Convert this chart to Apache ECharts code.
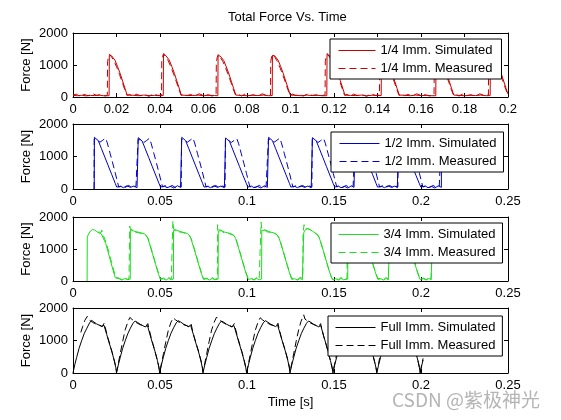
<!DOCTYPE html>
<html>
<head>
<meta charset="utf-8">
<script src="https://cdn.jsdelivr.net/npm/echarts@6/dist/echarts.min.js"></script>
<style>html,body{margin:0;padding:0;background:#fff}#c{width:561px;height:420px}</style>
</head>
<body>
<div id="c"></div>
<script>
// ---- data (time [s], force [N]) ----
const legendNames = [
  ['1/4 Imm. Simulated', '1/4 Imm. Measured'],
  ['1/2 Imm. Simulated', '1/2 Imm. Measured'],
  ['3/4 Imm. Simulated', '3/4 Imm. Measured'],
  ['Full Imm. Simulated', 'Full Imm. Measured']
];
const xMax = [0.2, 0.25, 0.25, 0.25];
const xStep = [0.02, 0.05, 0.05, 0.05];
const yMax = 2000, yStep = 1000;

const sim14 = [[0,50],[0.002,40],[0.004,55],[0.006,35],[0.008,50],[0.010,45],[0.012,60],[0.014,40],
[0.0166,40],[0.0167,1300],[0.0170,1350],[0.0177,1290],[0.0193,1150],[0.0205,950],[0.0217,730],[0.0228,500],[0.0239,270],[0.0249,60],[0.0253,30],
[0.0275,55],[0.030,40],[0.0325,60],[0.035,45],[0.0375,50],[0.040,40],
[0.0415,45],[0.0416,1320],[0.0419,1370],[0.0426,1300],[0.0442,1160],[0.0454,960],[0.0466,740],[0.0477,510],[0.0488,280],[0.0498,60],[0.0502,30],
[0.0525,50],[0.055,45],[0.0575,60],[0.060,40],[0.0625,55],[0.065,45],
[0.0666,40],[0.0667,1290],[0.0670,1340],[0.0677,1280],[0.0693,1140],[0.0705,940],[0.0717,720],[0.0728,490],[0.0739,260],[0.0749,60],[0.0753,30],
[0.0775,50],[0.080,40],[0.0825,55],[0.085,45],[0.0875,60],[0.090,40],
[0.0916,45],[0.0917,1300],[0.0920,1350],[0.0927,1290],[0.0943,1150],[0.0955,950],[0.0967,730],[0.0978,500],[0.0989,270],[0.0999,60],[0.1003,30],
[0.1025,55],[0.105,40],[0.1075,60],[0.110,45],[0.1125,50],[0.115,40],
[0.1167,40],[0.1168,1320],[0.1171,1360],[0.1178,1300],[0.1194,1160],[0.1206,960],[0.1218,740],[0.1229,510],[0.1240,280],[0.1250,60],[0.1254,30],
[0.1275,50],[0.130,45],[0.1325,60],[0.135,40],[0.1375,55],[0.140,45],
[0.1417,45],[0.1418,1310],[0.1421,1350],[0.1428,1290],[0.1444,1150],[0.1456,950],[0.1468,730],[0.1479,500],[0.1490,270],[0.1500,60],[0.1504,30],
[0.1525,55],[0.155,40],[0.1575,60],[0.160,45],[0.1625,50],[0.165,40],
[0.1668,40],[0.1669,1300],[0.1672,1340],[0.1679,1280],[0.1695,1140],[0.1707,940],[0.1719,720],[0.1730,490],[0.1741,260],[0.1751,60],[0.1755,30],
[0.1775,50],[0.180,40],[0.1825,55],[0.185,45],[0.1875,60],[0.190,40],
[0.1918,45],[0.1919,1310],[0.1922,1350],[0.1929,1290],[0.1945,1150],[0.1957,950],[0.1969,730],[0.1980,500],[0.1991,270],[0.2,90]];

const meas14 = [[0,60],[0.0015,90],[0.003,30],[0.005,80],[0.007,40],[0.009,100],[0.011,50],[0.013,80],[0.0148,30],
[0.0158,70],[0.0159,1100],[0.0163,1250],[0.0168,1340],[0.0173,1300],[0.0179,1230],[0.0189,1120],[0.0201,930],[0.0214,700],[0.0226,470],[0.0238,230],[0.0248,50],[0.0253,20],
[0.026,80],[0.0275,30],[0.029,90],[0.031,40],[0.033,70],[0.035,20],[0.037,100],[0.039,50],
[0.0407,60],[0.0408,1120],[0.0412,1270],[0.0417,1360],[0.0422,1310],[0.0428,1240],[0.0438,1130],[0.0450,940],[0.0463,710],[0.0475,480],[0.0487,240],[0.0497,50],[0.0502,20],
[0.051,90],[0.0525,40],[0.054,80],[0.056,30],[0.058,100],[0.060,50],[0.062,70],[0.064,30],
[0.0658,70],[0.0659,1090],[0.0663,1240],[0.0668,1330],[0.0673,1290],[0.0679,1220],[0.0689,1110],[0.0701,920],[0.0714,690],[0.0726,460],[0.0738,220],[0.0748,50],[0.0753,20],
[0.076,80],[0.0775,30],[0.079,90],[0.081,40],[0.083,70],[0.085,20],[0.087,100],[0.089,50],
[0.0908,60],[0.0909,1100],[0.0913,1250],[0.0918,1340],[0.0923,1300],[0.0929,1230],[0.0939,1120],[0.0951,930],[0.0964,700],[0.0976,470],[0.0988,230],[0.0998,50],[0.1003,20],
[0.101,90],[0.1025,40],[0.104,80],[0.106,30],[0.108,100],[0.110,50],[0.112,70],[0.114,30],
[0.1159,70],[0.1160,1120],[0.1164,1270],[0.1169,1360],[0.1174,1310],[0.1180,1240],[0.1190,1130],[0.1202,940],[0.1215,710],[0.1227,480],[0.1239,240],[0.1249,50],[0.1254,20],
[0.126,80],[0.1275,30],[0.129,90],[0.131,40],[0.133,70],[0.135,20],[0.137,100],[0.139,50],
[0.1409,60],[0.1410,1110],[0.1414,1260],[0.1419,1350],[0.1424,1300],[0.1430,1230],[0.1440,1120],[0.1452,930],[0.1465,700],[0.1477,470],[0.1489,230],[0.1499,50],[0.1504,20],
[0.151,90],[0.1525,40],[0.154,80],[0.156,30],[0.158,100],[0.160,50],[0.162,70],[0.164,30],
[0.1660,70],[0.1661,1090],[0.1665,1240],[0.1670,1330],[0.1675,1290],[0.1681,1220],[0.1691,1110],[0.1703,920],[0.1716,690],[0.1728,460],[0.1740,220],[0.1750,50],[0.1755,20],
[0.176,80],[0.1775,30],[0.179,90],[0.181,40],[0.183,70],[0.185,20],[0.187,100],[0.189,50],
[0.1910,60],[0.1911,1100],[0.1915,1250],[0.1920,1340],[0.1925,1300],[0.1931,1230],[0.1941,1120],[0.1953,930],[0.1966,700],[0.1978,470],[0.1990,230],[0.2,60]];

const sim12 = [[0.0122,0],[0.0123,1590],[0.0133,1555],[0.0145,1490],[0.0163,1250],[0.0183,980],[0.0203,710],[0.0223,440],[0.0243,170],[0.0251,60],[0.0258,30],
[0.0275,80],[0.029,40],[0.031,100],[0.033,50],[0.035,90],[0.0368,40],
[0.0374,60],[0.0375,1580],[0.0385,1545],[0.0397,1480],[0.0415,1240],[0.0435,970],[0.0455,700],[0.0475,430],[0.0495,160],[0.0503,60],[0.0510,30],
[0.0525,90],[0.054,40],[0.056,80],[0.058,30],[0.060,100],[0.0618,50],
[0.0624,50],[0.0625,1590],[0.0635,1560],[0.0647,1490],[0.0665,1250],[0.0685,980],[0.0705,710],[0.0725,440],[0.0745,170],[0.0753,60],[0.0760,30],
[0.0775,80],[0.079,40],[0.081,100],[0.083,50],[0.085,90],[0.0870,40],
[0.0876,60],[0.0877,1570],[0.0887,1540],[0.0899,1470],[0.0917,1230],[0.0937,960],[0.0957,690],[0.0977,420],[0.0997,160],[0.1005,60],[0.1012,30],
[0.1025,90],[0.104,40],[0.106,80],[0.108,30],[0.110,100],[0.1117,50],
[0.1123,50],[0.1124,1590],[0.1134,1555],[0.1146,1490],[0.1164,1250],[0.1184,980],[0.1204,710],[0.1224,440],[0.1244,170],[0.1252,60],[0.1259,30],
[0.1275,80],[0.129,40],[0.131,100],[0.133,50],[0.135,90],[0.1369,40],
[0.1375,60],[0.1376,1580],[0.1386,1545],[0.1398,1480],[0.1416,1240],[0.1436,970],[0.1456,700],[0.1476,430],[0.1496,160],[0.1504,60],[0.1511,30],
[0.1525,90],[0.154,40],[0.156,80],[0.158,30],[0.160,100],[0.1615,50],
[0.1621,50],[0.1622,1590],[0.1632,1560],[0.1644,1490],[0.1662,1250],[0.1682,980],[0.1702,710],[0.1722,440],[0.1742,170],[0.1750,60],[0.1757,30],
[0.1775,80],[0.179,40],[0.181,100],[0.183,50],[0.185,90],[0.1864,40],
[0.1870,60],[0.1871,1570],[0.1881,1540],[0.1893,1470],[0.1911,1230],[0.1931,960],[0.1951,690],[0.1971,420],[0.1991,160],[0.1999,60],[0.2006,30],
[0.2025,90],[0.204,40],[0.206,80],[0.208,30],[0.210,100],[0.2117,50],[0.2118,1580]];

const meas12 = [[0.0121,0],[0.0122,1540],[0.0133,1560],[0.0143,1500],[0.0155,1440],[0.0171,1500],[0.0187,1565],[0.0197,1420],[0.0213,1100],[0.0228,800],[0.0243,490],[0.0255,230],[0.0263,60],[0.0269,30],
[0.028,100],[0.030,50],[0.032,110],[0.034,40],[0.0362,90],[0.0372,60],
[0.0373,70],[0.0374,1530],[0.0385,1550],[0.0395,1490],[0.0407,1430],[0.0423,1490],[0.0439,1560],[0.0449,1410],[0.0465,1090],[0.0480,790],[0.0495,480],[0.0507,220],[0.0515,60],[0.0521,30],
[0.053,100],[0.055,50],[0.057,110],[0.059,40],[0.061,90],[0.0622,60],
[0.0623,80],[0.0624,1540],[0.0635,1565],[0.0645,1500],[0.0657,1440],[0.0673,1500],[0.0689,1570],[0.0699,1420],[0.0715,1100],[0.0730,800],[0.0745,490],[0.0757,230],[0.0765,60],[0.0771,30],
[0.078,100],[0.080,50],[0.082,110],[0.084,40],[0.086,90],[0.0874,60],
[0.0875,70],[0.0876,1530],[0.0887,1550],[0.0897,1490],[0.0909,1430],[0.0925,1490],[0.0941,1555],[0.0951,1410],[0.0967,1090],[0.0982,790],[0.0997,480],[0.1009,220],[0.1017,60],[0.1023,30],
[0.103,100],[0.105,50],[0.107,110],[0.109,40],[0.111,90],[0.1121,60],
[0.1122,80],[0.1123,1540],[0.1134,1560],[0.1144,1500],[0.1156,1440],[0.1172,1500],[0.1188,1565],[0.1198,1420],[0.1214,1100],[0.1229,800],[0.1244,490],[0.1256,230],[0.1264,60],[0.1270,30],
[0.128,100],[0.130,50],[0.132,110],[0.134,40],[0.136,90],[0.1373,60],
[0.1374,70],[0.1375,1530],[0.1386,1550],[0.1396,1490],[0.1408,1430],[0.1424,1490],[0.1440,1560],[0.1450,1410],[0.1466,1090],[0.1481,790],[0.1496,480],[0.1508,220],[0.1516,60],[0.1522,30],
[0.153,100],[0.155,50],[0.157,110],[0.159,40],[0.161,90],[0.1619,60],
[0.1620,80],[0.1621,1540],[0.1632,1565],[0.1642,1500],[0.1654,1440],[0.1670,1500],[0.1686,1570],[0.1696,1420],[0.1712,1100],[0.1727,800],[0.1742,490],[0.1754,230],[0.1762,60],[0.1768,30],
[0.178,100],[0.180,50],[0.182,110],[0.184,40],[0.1855,90],[0.1867,60],
[0.1869,70],[0.1870,1530],[0.1881,1550],[0.1891,1490],[0.1903,1430],[0.1919,1490],[0.1935,1560],[0.1945,1410],[0.1961,1090],[0.1976,790],[0.1991,480],[0.2003,220],[0.2011,60],[0.2017,30],
[0.203,100],[0.205,50],[0.207,110],[0.209,40],[0.2105,90],[0.2115,60],[0.2116,1540]];

const sim34 = [[0.0081,0],[0.0082,1380],[0.0090,1470],[0.0100,1560],[0.0113,1610],[0.0125,1590],[0.0137,1540],[0.0150,1500],[0.0163,1470],[0.0174,1420],[0.0188,1170],[0.0202,900],[0.0216,620],[0.0230,340],[0.0243,100],[0.0250,40],
[0.0265,70],[0.028,30],[0.030,80],[0.0315,40],[0.0329,60],
[0.0330,1600],[0.0336,1580],[0.0350,1560],[0.0365,1540],[0.0380,1520],[0.0395,1500],[0.0410,1470],[0.0422,1420],[0.0430,1330],[0.0445,1070],[0.0460,790],[0.0475,510],[0.0490,240],[0.0502,50],[0.0508,30],
[0.052,70],[0.0535,30],[0.055,80],[0.0565,40],[0.0577,60],
[0.0578,1580],[0.0584,1570],[0.0598,1590],[0.0613,1550],[0.0628,1530],[0.0643,1510],[0.0658,1480],[0.0670,1420],[0.0678,1320],[0.0693,1060],[0.0708,780],[0.0723,500],[0.0738,230],[0.0750,50],[0.0756,30],
[0.077,70],[0.0785,30],[0.080,80],[0.0815,40],[0.0834,60],
[0.0835,1560],[0.0841,1550],[0.0855,1570],[0.0870,1530],[0.0885,1510],[0.0900,1490],[0.0915,1460],[0.0927,1410],[0.0935,1320],[0.0950,1060],[0.0965,780],[0.0980,500],[0.0995,230],[0.1007,50],[0.1013,30],
[0.1025,70],[0.104,30],[0.1055,80],[0.107,40],[0.1084,60],
[0.1085,1580],[0.1091,1570],[0.1105,1590],[0.1120,1560],[0.1135,1530],[0.1150,1510],[0.1165,1480],[0.1177,1420],[0.1185,1330],[0.1200,1070],[0.1215,790],[0.1230,510],[0.1245,240],[0.1257,50],[0.1263,30],
[0.1275,70],[0.129,30],[0.1305,80],[0.1318,40],[0.1325,60],
[0.1326,1500],[0.1332,1580],[0.1346,1640],[0.1361,1610],[0.1376,1560],[0.1391,1500],[0.1406,1440],[0.1416,1340],[0.1426,1170],[0.1441,900],[0.1456,620],[0.1471,340],[0.1486,100],[0.1494,30],
[0.151,70],[0.1525,30],[0.154,80],[0.1555,40],[0.1579,60],
[0.1580,1560],[0.1586,1560],[0.1600,1580],[0.1615,1550],[0.1630,1520],[0.1645,1500],[0.1660,1470],[0.1672,1410],[0.1680,1320],[0.1695,1060],[0.1710,780],[0.1725,500],[0.1740,230],[0.1752,50],[0.1758,30],
[0.177,70],[0.1785,30],[0.180,80],[0.1812,40],[0.1821,60],
[0.1822,1560],[0.1828,1560],[0.1842,1580],[0.1857,1550],[0.1872,1520],[0.1887,1500],[0.1902,1470],[0.1914,1410],[0.1922,1320],[0.1937,1060],[0.1952,780],[0.1967,500],[0.1982,230],[0.1994,50],[0.2000,30],
[0.2015,70],[0.203,30],[0.2045,80],[0.2058,40],[0.2067,60],[0.2068,1560]];

const meas34 = [[0.0145,1530],[0.0155,1480],[0.0162,1520],[0.0166,1590],[0.0170,1480],[0.0175,1540],[0.0180,1450],[0.0192,1180],[0.0206,900],[0.0220,620],[0.0234,340],[0.0246,110],[0.0252,50],
[0.0265,90],[0.028,40],[0.0295,110],[0.031,50],[0.0322,80],
[0.0325,60],[0.0326,1720],[0.0330,1620],[0.0336,1560],[0.0345,1600],[0.0355,1530],[0.0365,1570],[0.0375,1510],[0.0385,1540],[0.0395,1480],[0.0405,1500],[0.0415,1440],[0.0424,1470],[0.0432,1330],[0.0447,1060],[0.0462,780],[0.0477,500],[0.0492,240],[0.0503,70],[0.0510,30],
[0.052,90],[0.0535,40],[0.055,110],[0.0565,50],[0.0573,80],
[0.0574,1880],[0.0578,1620],[0.0585,1560],[0.0595,1610],[0.0605,1540],[0.0615,1580],[0.0625,1520],[0.0635,1550],[0.0645,1490],[0.0655,1510],[0.0665,1450],[0.0672,1460],[0.0680,1320],[0.0695,1050],[0.0710,770],[0.0725,490],[0.0740,230],[0.0751,70],[0.0758,30],
[0.077,90],[0.0785,40],[0.080,110],[0.0815,50],[0.0830,80],
[0.0831,1760],[0.0835,1600],[0.0842,1540],[0.0852,1590],[0.0862,1520],[0.0872,1560],[0.0882,1500],[0.0892,1530],[0.0902,1470],[0.0912,1490],[0.0922,1430],[0.0929,1440],[0.0937,1310],[0.0952,1040],[0.0967,760],[0.0982,480],[0.0997,220],[0.1008,70],[0.1015,30],
[0.1025,90],[0.104,40],[0.1055,110],[0.107,50],[0.1080,80],
[0.1081,1840],[0.1085,1620],[0.1092,1560],[0.1102,1610],[0.1112,1540],[0.1122,1580],[0.1132,1520],[0.1142,1550],[0.1152,1490],[0.1162,1510],[0.1172,1450],[0.1179,1460],[0.1187,1320],[0.1202,1050],[0.1217,770],[0.1232,490],[0.1247,230],[0.1258,70],[0.1265,30],
[0.1275,90],[0.129,40],[0.1305,110],[0.1315,50],[0.1321,80],
[0.1322,1500],[0.1328,1760],[0.1333,1620],[0.1340,1680],[0.1348,1640],[0.1358,1700],[0.1365,1600],[0.1375,1570],[0.1385,1530],[0.1395,1500],[0.1405,1450],[0.1415,1360],[0.1425,1190],[0.1440,920],[0.1455,640],[0.1470,360],[0.1485,120],[0.1494,40],
[0.151,90],[0.1525,40],[0.154,110],[0.1555,50],[0.1575,80],
[0.1576,1800],[0.1580,1600],[0.1587,1550],[0.1597,1600],[0.1607,1530],[0.1617,1570],[0.1627,1510],[0.1637,1540],[0.1647,1480],[0.1657,1500],[0.1667,1440],[0.1674,1450],[0.1682,1310],[0.1697,1040],[0.1712,760],[0.1727,480],[0.1742,220],[0.1753,70],[0.1760,30],
[0.177,90],[0.1785,40],[0.180,110],[0.1812,50],[0.1817,80],
[0.1818,1780],[0.1822,1600],[0.1829,1550],[0.1839,1600],[0.1849,1530],[0.1859,1570],[0.1869,1510],[0.1879,1540],[0.1889,1480],[0.1899,1500],[0.1909,1440],[0.1916,1450],[0.1924,1310],[0.1939,1040],[0.1954,760],[0.1969,480],[0.1984,220],[0.1995,70],[0.2002,30],
[0.2015,90],[0.203,40],[0.2045,110],[0.2058,50],[0.2066,80],[0.2067,1700]];

const simFull = [[0,0],[0.0010,250],[0.0021,480],[0.0035,760],[0.0050,1000],[0.0065,1220],[0.0080,1380],[0.0095,1540],[0.0107,1620],[0.0120,1570],[0.0136,1510],[0.0150,1470],[0.0165,1430],[0.0178,1470],[0.0186,1440],[0.0194,1180],[0.0208,920],[0.0222,680],[0.0236,400],[0.0246,170],[0.0250,0],
[0.0260,240],[0.0271,470],[0.0285,750],[0.0300,990],[0.0315,1210],[0.0330,1380],[0.0345,1530],[0.0357,1600],[0.0370,1560],[0.0386,1500],[0.0400,1460],[0.0415,1420],[0.0428,1460],[0.0435,1430],[0.0443,1170],[0.0457,910],[0.0471,670],[0.0485,390],[0.0494,160],[0.0498,0],
[0.0508,250],[0.0519,480],[0.0533,760],[0.0548,1000],[0.0563,1220],[0.0578,1390],[0.0593,1540],[0.0605,1610],[0.0618,1570],[0.0634,1510],[0.0648,1470],[0.0663,1430],[0.0676,1470],[0.0684,1440],[0.0692,1180],[0.0706,920],[0.0720,680],[0.0734,400],[0.0743,170],[0.0747,0],
[0.0757,240],[0.0768,470],[0.0782,750],[0.0797,990],[0.0812,1210],[0.0827,1380],[0.0842,1530],[0.0854,1600],[0.0867,1560],[0.0883,1500],[0.0897,1460],[0.0912,1420],[0.0925,1460],[0.0933,1430],[0.0941,1170],[0.0955,910],[0.0969,670],[0.0983,390],[0.0993,160],[0.0998,0],
[0.1008,250],[0.1019,480],[0.1033,760],[0.1048,1000],[0.1063,1220],[0.1078,1390],[0.1093,1540],[0.1105,1610],[0.1118,1570],[0.1134,1510],[0.1148,1470],[0.1163,1430],[0.1176,1470],[0.1184,1440],[0.1192,1180],[0.1206,920],[0.1220,680],[0.1234,400],[0.1243,170],[0.1247,0],
[0.1257,240],[0.1268,470],[0.1282,750],[0.1297,990],[0.1312,1210],[0.1327,1380],[0.1342,1530],[0.1354,1600],[0.1367,1560],[0.1383,1500],[0.1397,1460],[0.1412,1420],[0.1424,1460],[0.1431,1430],[0.1439,1170],[0.1453,910],[0.1466,670],[0.1479,390],[0.1490,160],[0.1494,0],
[0.1504,250],[0.1515,480],[0.1529,760],[0.1544,1000],[0.1559,1220],[0.1574,1390],[0.1589,1540],[0.1601,1610],[0.1614,1570],[0.1630,1510],[0.1644,1470],[0.1659,1430],[0.1672,1470],[0.1680,1440],[0.1689,1180],[0.1703,920],[0.1717,680],[0.1731,400],[0.1741,170],[0.1746,0],
[0.1756,240],[0.1767,470],[0.1781,750],[0.1796,990],[0.1811,1210],[0.1826,1380],[0.1841,1530],[0.1853,1600],[0.1866,1560],[0.1882,1500],[0.1896,1460],[0.1911,1420],[0.1924,1460],[0.1932,1430],[0.1940,1170],[0.1954,910],[0.1968,670],[0.1982,390],[0.1991,160],[0.1995,0],
[0.2005,250],[0.2012,400]];

const measFull = [[0.0045,1250],[0.0055,1420],[0.0068,1620],[0.0082,1740],[0.0090,1640],[0.0100,1590],[0.0112,1560],[0.0125,1520],[0.0140,1490],[0.0155,1470],[0.0168,1430],[0.0180,1540],[0.0186,1390],[0.0198,1130],[0.0212,880],[0.0226,620],[0.0240,330],[0.0251,50],
[0.0260,290],[0.0272,610],[0.0285,960],[0.0300,1330],[0.0315,1570],[0.0327,1710],[0.0333,1770],[0.0339,1650],[0.0349,1590],[0.0361,1560],[0.0374,1520],[0.0389,1480],[0.0404,1460],[0.0417,1420],[0.0430,1520],[0.0436,1380],[0.0448,1120],[0.0461,870],[0.0474,610],[0.0488,320],[0.0499,40],
[0.0508,280],[0.0520,600],[0.0533,950],[0.0548,1320],[0.0563,1560],[0.0576,1700],[0.0582,1750],[0.0588,1640],[0.0598,1580],[0.0610,1560],[0.0623,1520],[0.0638,1480],[0.0653,1460],[0.0666,1420],[0.0678,1530],[0.0684,1380],[0.0696,1120],[0.0710,870],[0.0724,620],[0.0738,330],[0.0748,50],
[0.0757,290],[0.0769,610],[0.0782,960],[0.0797,1330],[0.0812,1570],[0.0825,1720],[0.0831,1770],[0.0837,1650],[0.0847,1590],[0.0859,1560],[0.0872,1520],[0.0887,1480],[0.0902,1460],[0.0915,1420],[0.0927,1520],[0.0933,1380],[0.0945,1120],[0.0959,870],[0.0973,610],[0.0987,320],[0.0998,40],
[0.1008,280],[0.1020,600],[0.1033,950],[0.1048,1320],[0.1063,1560],[0.1076,1700],[0.1082,1750],[0.1088,1640],[0.1098,1580],[0.1110,1560],[0.1123,1520],[0.1138,1480],[0.1153,1460],[0.1166,1420],[0.1178,1530],[0.1184,1380],[0.1196,1120],[0.1210,870],[0.1224,620],[0.1238,330],[0.1248,50],
[0.1257,290],[0.1269,610],[0.1282,960],[0.1297,1330],[0.1310,1580],[0.1320,1720],[0.1326,1790],[0.1333,1660],[0.1343,1600],[0.1355,1570],[0.1368,1530],[0.1383,1490],[0.1398,1460],[0.1411,1420],[0.1423,1520],[0.1429,1380],[0.1441,1120],[0.1455,870],[0.1468,610],[0.1482,320],[0.1494,40],
[0.1504,280],[0.1516,600],[0.1529,950],[0.1544,1320],[0.1559,1560],[0.1572,1700],[0.1578,1750],[0.1584,1640],[0.1594,1580],[0.1606,1560],[0.1619,1520],[0.1634,1480],[0.1649,1460],[0.1662,1420],[0.1674,1530],[0.1680,1380],[0.1692,1120],[0.1706,870],[0.1720,620],[0.1734,330],[0.1746,50],
[0.1756,290],[0.1768,610],[0.1781,960],[0.1796,1330],[0.1811,1570],[0.1824,1720],[0.1830,1770],[0.1836,1650],[0.1846,1590],[0.1858,1560],[0.1871,1520],[0.1886,1480],[0.1901,1460],[0.1914,1420],[0.1926,1520],[0.1932,1380],[0.1944,1120],[0.1958,870],[0.1971,610],[0.1985,320],[0.1996,40],
[0.2006,300],[0.2012,450]];

// ---- layout / style ----
const FONT = '"Liberation Sans", Arial, Helvetica, sans-serif';
const colors = ['#c80000', '#0000c4', '#1edc1e', '#000000'];
const simData = [sim14, sim12, sim34, simFull];
const measData = [meas14, meas12, meas34, measFull];
const grids = [
  {left: 73, width: 435, top: 33, height: 64},
  {left: 73, width: 435, top: 124, height: 65},
  {left: 73, width: 435, top: 217, height: 64},
  {left: 73, width: 435, top: 308, height: 65}
];
const legendPos = [
  {left: 330, top: 39, itemWidth: 37, padding: [5, 9, 4, 8]},
  {left: 331, top: 132, itemWidth: 40, padding: [5, 7, 4, 8]},
  {left: 331, top: 223, itemWidth: 40, padding: [5, 7, 4, 7]},
  {left: 328, top: 316, itemWidth: 40, padding: [5, 7, 4, 7]}
];

const axLine = {onZero: false, lineStyle: {color: '#000', width: 1}};
const axTick = {inside: true, length: 4, lineStyle: {color: '#000', width: 1}};
const xFmt = v => String(Math.round(v * 1000) / 1000);

const xAxis = [], yAxis = [], series = [], legend = [];
for (let i = 0; i < 4; i++) {
  xAxis.push({
    type: 'value', gridIndex: i, position: 'bottom', min: 0, max: xMax[i], interval: xStep[i],
    axisLine: axLine, axisTick: axTick, splitLine: {show: false},
    axisLabel: {color: '#000', fontSize: 13, fontFamily: FONT, margin: 6, formatter: xFmt},
    name: i === 3 ? 'Time [s]' : '', nameLocation: 'middle', nameGap: 23, nameMoveOverlap: false,
    nameTextStyle: {color: '#000', fontSize: 13, fontFamily: FONT}
  });
  xAxis.push({
    type: 'value', gridIndex: i, position: 'top', min: 0, max: xMax[i], interval: xStep[i],
    axisLine: axLine, axisTick: axTick, splitLine: {show: false}, axisLabel: {show: false}
  });
  yAxis.push({
    type: 'value', gridIndex: i, position: 'left', min: 0, max: yMax, interval: yStep,
    axisLine: axLine, axisTick: axTick, splitLine: {show: false},
    axisLabel: {color: '#000', fontSize: 13, fontFamily: FONT, margin: 5, formatter: v => String(v)},
    name: 'Force [N]', nameLocation: 'middle', nameGap: 40, nameMoveOverlap: false,
    nameTextStyle: {color: '#000', fontSize: 13, fontFamily: FONT}
  });
  yAxis.push({
    type: 'value', gridIndex: i, position: 'right', min: 0, max: yMax, interval: yStep,
    axisLine: axLine, axisTick: axTick, splitLine: {show: false}, axisLabel: {show: false}
  });
  series.push({
    name: legendNames[i][0], type: 'line', xAxisIndex: 2 * i, yAxisIndex: 2 * i,
    data: simData[i], symbol: 'none', showSymbol: false,
    lineStyle: {color: colors[i], width: 1, type: 'solid'}, itemStyle: {color: colors[i]}
  });
  series.push({
    name: legendNames[i][1], type: 'line', xAxisIndex: 2 * i, yAxisIndex: 2 * i,
    data: measData[i], symbol: 'none', showSymbol: false,
    lineStyle: {color: colors[i], width: 1, type: [7, 4]}, itemStyle: {color: colors[i]}
  });
  legend.push({
    data: legendNames[i], orient: 'vertical', left: legendPos[i].left, top: legendPos[i].top,
    itemWidth: legendPos[i].itemWidth, itemHeight: 14, itemGap: 5, padding: legendPos[i].padding,
    borderColor: '#000', borderWidth: 1, borderRadius: 0, backgroundColor: '#fff',
    itemStyle: {opacity: 0, borderWidth: 0},
    lineStyle: {width: 1},
    selectedMode: false, textStyle: {color: '#000', fontSize: 13, fontFamily: FONT}
  });
}

const chart = echarts.init(document.getElementById('c'), null, {renderer: 'canvas'});
chart.setOption({
  animation: false,
  backgroundColor: '#fff',
  title: {text: 'Total Force Vs. Time', left: 228, top: 11, padding: 0,
    textStyle: {color: '#000', fontSize: 13, fontWeight: 'normal', fontFamily: FONT}},
  grid: grids,
  xAxis: xAxis,
  yAxis: yAxis,
  legend: legend,
  series: series,
  graphic: [{type: 'text', left: 392, top: 390, z: 100,
    style: {text: 'CSDN @紫极神光', fill: '#b4b4b4', font: '19px "Noto Sans CJK SC", sans-serif'}}]
});
</script>
</body>
</html>
